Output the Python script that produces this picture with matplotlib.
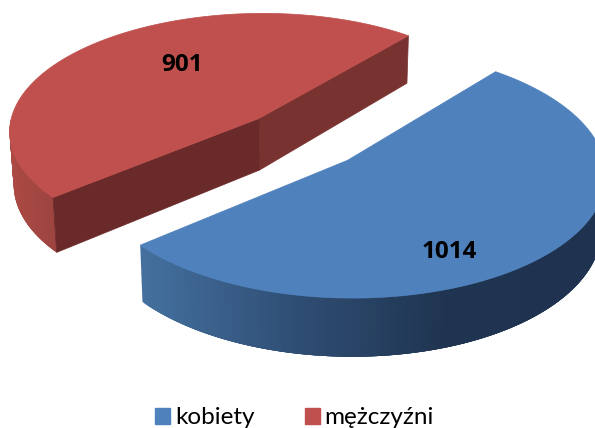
import numpy as np
import matplotlib
matplotlib.use('Agg')
import matplotlib.pyplot as plt
from matplotlib.collections import PolyCollection
from matplotlib.colors import LinearSegmentedColormap
from matplotlib.patches import Patch, Polygon

categories = ['kobiety', 'mężczyźni']
values = [1014, 901]
top_colors = ['#4F81BD', '#C0504D']
cut_colors = ['#1F3450', '#6B2A2A', '#783230']

# camera of the fake 3d pie
cx, cy = 302.5, 139
a, b = 252, 119.5
k = 0.1
explode = 0.248
depth = 52.5
start_angle = 50.5
label_pos = [(0.355, 0.69), (-0.332, -0.49)]


def project(X, Y, down=0.0):
    w = 1 - k * Y
    sx = X / w * a * (1 - 0.014 * down) + cx
    sy = Y / w * b + cy + depth * down * (1 + 0.1 * Y)
    return sx, sy


def wedge_xy(t0, t1, off):
    t = np.radians(np.linspace(t0, t1, 200))
    return off[0] + np.cos(t), off[1] - np.sin(t)


fig = plt.figure(figsize=(5.95, 4.28), dpi=100)
ax = fig.add_axes([0, 0, 1, 1])
ax.set_xlim(0, 595)
ax.set_ylim(428, 0)
ax.axis('off')

sweep = [v / sum(values) * 360 for v in values]
blue_t0 = start_angle - sweep[0]
red_t1 = start_angle + sweep[1]
mid_red = np.radians(start_angle + sweep[1] / 2)
red_off = (explode * np.cos(mid_red), -explode * np.sin(mid_red))
blue_off = (-red_off[0], -red_off[1])

blue_side = LinearSegmentedColormap.from_list('b', ['#44709F', '#2F4E74', '#1F3450', '#1F3350'])
red_side = LinearSegmentedColormap.from_list('r', ['#AC4944', '#9C4440'])


def draw_side(t0, t1, off, cmap, lo, hi):
    X, Y = wedge_xy(t0, t1, off)
    x0, y0 = project(X, Y)
    x1, y1 = project(X, Y, 1)
    n = len(X)
    order = range(n - 1) if x0[-1] > x0[0] else range(n - 2, -1, -1)
    quads = []
    cols = []
    for i in order:
        # overlap with next strips so no seams show up
        j = min(i + 4, n - 1)
        quads.append([(x0[i], y0[i]), (x0[j], y0[j]), (x1[j], y1[j]), (x1[i], y1[i])])
        cols.append(cmap((x0[i] - lo) / (hi - lo)))
    ax.add_collection(PolyCollection(quads, facecolors=cols, edgecolors='none', linewidths=0))


def draw_cut(off, t, color):
    ex = off[0] + np.cos(np.radians(t))
    ey = off[1] - np.sin(np.radians(t))
    p = [project(off[0], off[1]), project(ex, ey), project(ex, ey, 1), project(off[0], off[1], 1)]
    ax.add_patch(Polygon(p, closed=True, facecolor=color, edgecolor=color, linewidth=0.5))


def draw_top(t0, t1, off, color):
    X, Y = wedge_xy(t0, t1, off)
    sx, sy = project(X, Y)
    pts = [project(off[0], off[1])] + list(zip(sx, sy))
    ax.add_patch(Polygon(pts, closed=True, facecolor=color, edgecolor=color, linewidth=0.5))


# red slice first, it lies behind
draw_side(180, red_t1, red_off, red_side, 10, 56)
draw_cut(red_off, start_angle, cut_colors[2])
draw_cut(red_off, red_t1, cut_colors[1])
draw_top(start_angle, red_t1, red_off, top_colors[1])

draw_side(blue_t0, 0, blue_off, blue_side, 140, 600)
draw_top(blue_t0, start_angle, blue_off, top_colors[0])

for off, pos, v in zip([blue_off, red_off], label_pos, values):
    sx, sy = project(off[0] + pos[0], off[1] + pos[1])
    ax.text(sx, sy, str(v), ha='center', va='center', fontsize=17.5, fontweight='bold',
            family='Open Sans', color='black')

handles = [Patch(facecolor=c, edgecolor=c) for c in top_colors]
ax.legend(handles, categories, loc='lower center', bbox_to_anchor=(0.495, -0.052), ncol=2, frameon=False,
          prop={'family': 'Lato', 'size': 17.5}, handlelength=0.617, handleheight=0.617,
          handletextpad=0.2, columnspacing=2.06)

fig.savefig('out.png', dpi=100)
